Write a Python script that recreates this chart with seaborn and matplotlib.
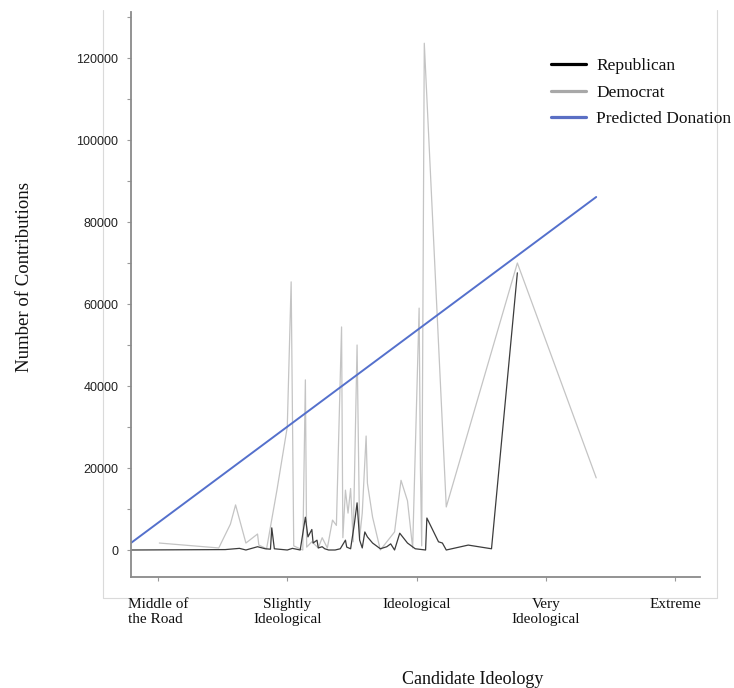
import numpy as np
import pandas as pd
import matplotlib
matplotlib.use("Agg")
import matplotlib.pyplot as plt
import seaborn as sns
from matplotlib.lines import Line2D
from matplotlib.ticker import MultipleLocator

# ---------------- data ----------------
categories = ["Middle of\nthe Road", "Slightly\nIdeological", "Ideological",
              "Very\nIdeological", "Extreme"]
category_pos = [0, 1, 2, 3, 4]

dem_x = [0.01, 0.47, 0.56, 0.60, 0.68, 0.77, 0.78, 0.84, 0.92, 1.00, 1.03, 1.05,
         1.12, 1.14, 1.15, 1.19, 1.24, 1.27, 1.31, 1.35, 1.38, 1.42, 1.43, 1.45,
         1.47, 1.49, 1.51, 1.54, 1.56, 1.58, 1.61, 1.62, 1.66, 1.72, 1.83, 1.88,
         1.93, 1.97, 2.02, 2.03, 2.04, 2.06, 2.23, 2.78, 3.39]
dem_y = [1700, 500, 6300, 11000, 1700, 3900, 1200, 300, 14600, 30000, 65400, 1000,
         0, 41500, 700, 2000, 500, 3000, 500, 7300, 6000, 54400, 3000, 14600,
         9000, 15000, 2000, 50000, 3000, 9000, 27800, 16300, 8000, 0, 4400, 17000,
         12000, 500, 59000, 20000, 1000, 123600, 10500, 70000, 17600]

rep_x = [-0.21, 0.52, 0.63, 0.68, 0.77, 0.83, 0.87, 0.88, 0.90, 1.00, 1.04, 1.10,
         1.14, 1.16, 1.19, 1.20, 1.23, 1.24, 1.27, 1.29, 1.32, 1.37, 1.41, 1.45,
         1.46, 1.49, 1.52, 1.54, 1.56, 1.58, 1.60, 1.62, 1.66, 1.72, 1.77, 1.80,
         1.83, 1.87, 1.93, 1.99, 2.07, 2.08, 2.17, 2.20, 2.23, 2.40, 2.58, 2.78]
rep_y = [0, 100, 400, 0, 800, 300, 200, 5400, 300, 0, 400, 0,
         8000, 3200, 5000, 1700, 2400, 500, 800, 300, 0, 0, 300, 2400,
         700, 300, 6600, 11500, 2400, 500, 4400, 3200, 1700, 300, 800, 1500,
         0, 4100, 1700, 300, 0, 7800, 2000, 1700, 0, 1200, 300, 67600]

pred_x = [-0.21, 3.39]
pred_y = [1700, 86100]

series_names = ["Republican", "Democrat", "Predicted Donation"]
y_ticks = [0, 20000, 40000, 60000, 80000, 100000, 120000]

# ---------------- style ----------------
sns.set_theme(style="white")
plt.rcParams['font.family'] = ['Liberation Serif', 'DejaVu Serif']

W, H = 734, 688
fig = plt.figure(figsize=(W / 100, H / 100), dpi=100)
ax = fig.add_axes([131 / W, 1 - 577 / H, (700 - 131) / W, (577 - 12) / H])

rep_color = "#3c3c3c"
dem_color = "#c4c4c4"
pred_color = "#5470cc"

df_dem = pd.DataFrame({"x": dem_x, "y": dem_y})
df_rep = pd.DataFrame({"x": rep_x, "y": rep_y})
df_pred = pd.DataFrame({"x": pred_x, "y": pred_y})

sns.lineplot(data=df_dem, x="x", y="y", estimator=None, sort=False,
             color=dem_color, lw=0.9, ax=ax, legend=False)
sns.lineplot(data=df_rep, x="x", y="y", estimator=None, sort=False,
             color=rep_color, lw=0.9, ax=ax, legend=False)
sns.lineplot(data=df_pred, x="x", y="y", estimator=None, sort=False,
             color=pred_color, lw=1.4, ax=ax, legend=False)

ax.set_xlim(-0.209, 4.193)
ax.set_ylim(-6585, 131220)

# spines
for s in ["top", "right"]:
    ax.spines[s].set_visible(False)
for s in ["left", "bottom"]:
    ax.spines[s].set_color("#8a8a8a")
    ax.spines[s].set_linewidth(1.3)

# ticks
ax.set_yticks(y_ticks)
ax.set_yticklabels([str(v) for v in y_ticks])
ax.yaxis.set_minor_locator(MultipleLocator(10000))
ax.tick_params(axis="y", which="both", direction="out", length=3, width=0.8,
               color="#9a9a9a", left=True, pad=6)
for lbl in ax.get_yticklabels():
    lbl.set_fontfamily(['Liberation Sans', 'DejaVu Sans'])
    lbl.set_fontsize(9)
    lbl.set_color("#222222")

ax.set_xticks(category_pos)
ax.set_xticklabels(categories, fontsize=11, color="#111111", va="top")
ax.tick_params(axis="x", which="both", direction="out", length=3, width=0.8,
               color="#9a9a9a", bottom=True, pad=12)
xl = ax.get_xticklabels()
xl[0].set_multialignment("left")

# axis labels
ax.set_xlabel("Candidate Ideology", fontsize=13, color="#111111")
ax.xaxis.set_label_coords((473 - 131) / 569, (577 - 671) / 565)
ax.set_ylabel("Number of Contributions", fontsize=13.5, color="#111111")
ax.yaxis.set_label_coords((33 - 131) / 569, (577 - 277) / 565)

# legend
handles = [Line2D([], [], color="#000000", lw=2.3),
           Line2D([], [], color="#a8a8a8", lw=2.3),
           Line2D([], [], color="#5a6fc4", lw=2.3)]
leg = fig.legend(handles, series_names, loc="upper left",
                 bbox_to_anchor=(551 / W, 1 - 58 / H), frameon=False,
                 fontsize=12.5, handlelength=2.0, handletextpad=0.6,
                 labelspacing=0.6, borderpad=0, borderaxespad=0)
for t in leg.get_texts():
    t.set_color("#111111")

# faint outer frame of the composite image
fig.add_artist(Line2D([103 / W, 103 / W, 717 / W, 717 / W],
                      [1 - 10 / H, 1 - 598 / H, 1 - 598 / H, 1 - 10 / H],
                      transform=fig.transFigure, color="#dadada", lw=0.8, zorder=0))

fig.savefig("out.png", dpi=100)
